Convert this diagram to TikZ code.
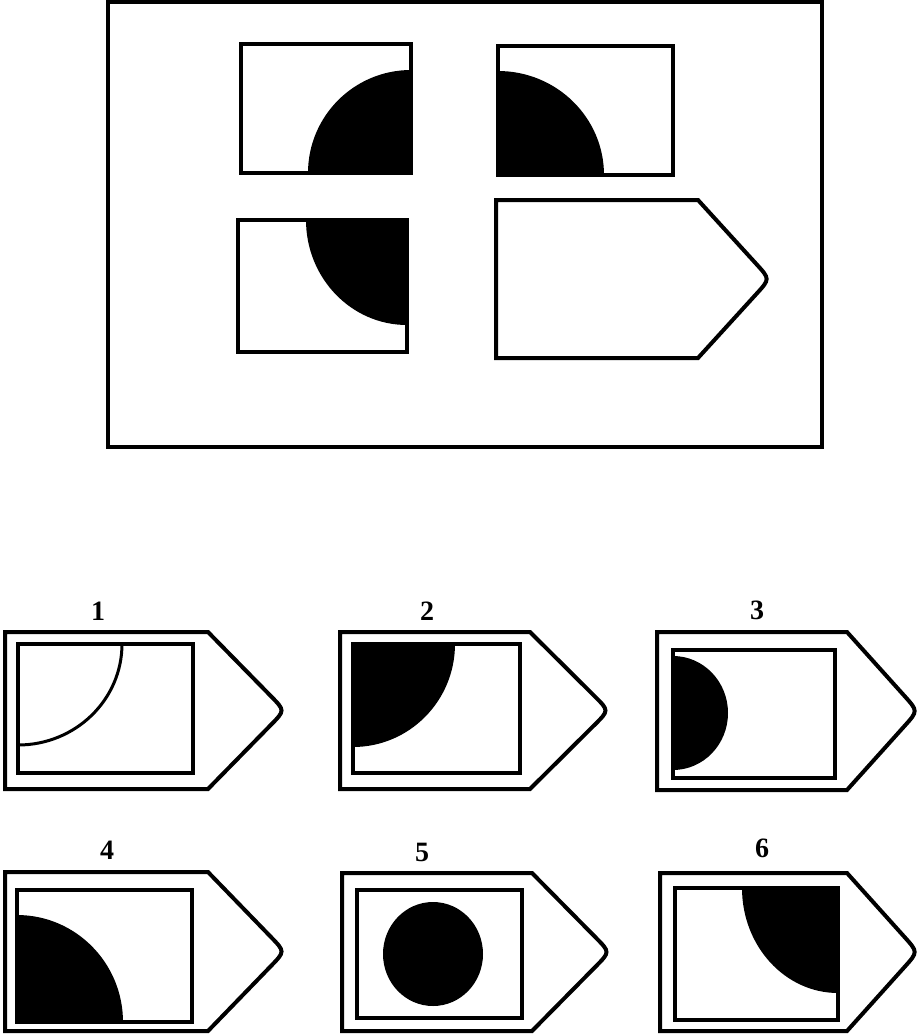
\documentclass[tikz,border=0pt]{standalone}
\usepackage{fontspec}
\setmainfont{Liberation Serif}
\usetikzlibrary{calc}
\tikzset{
  frameline/.style={line width=3.5pt},
  boxline/.style={line width=4pt, line join=miter},
  innerline/.style={line width=4.5pt},
  blackfill/.style={fill=black},
  numlabel/.style={font=\bfseries\fontsize{28}{30}\selectfont, inner sep=0pt}
}
% #1 x0, #2 xe, #3 xt, #4 y0, #5 y1
\newcommand\arrowoutline[5]{%
  \coordinate (tp) at (#3,{(#4+#5)/2});
  \draw[boxline] (#1,#4) -- (#2,#4) -- ($(tp)!20pt!(#2,#4)$) .. controls (tp) .. ($(tp)!20pt!(#2,#5)$) -- (#2,#5) -- (#1,#5) -- cycle;}
\begin{document}
\begin{tikzpicture}[x=1pt,y=-1pt]
\useasboundingbox (0,0) rectangle (919,1034);
\fill[white] (0,0) rectangle (919,1034);
% ---------- top frame ----------
\draw[frameline] (108,2) rectangle (822,447);
% top-left cell
\begin{scope}
  \clip (241,44) rectangle (411,173);
  \fill[blackfill] (411,173) ellipse [x radius=103, y radius=103];
\end{scope}
\draw[boxline] (241,44) rectangle (411,173);
% top-right cell
\begin{scope}
  \clip (498,46) rectangle (673,175);
  \fill[blackfill] (498,175) ellipse [x radius=106, y radius=104];
\end{scope}
\draw[boxline] (498,46) rectangle (673,175);
% bottom-left cell
\begin{scope}
  \clip (238,220) rectangle (407,352);
  \fill[blackfill] (407,220) ellipse [x radius=101, y radius=105];
\end{scope}
\draw[boxline] (238,220) rectangle (407,352);
% bottom-right cell (pentagon)
\arrowoutline{496}{698}{770}{200}{358}
% ---------- options ----------
% 1
\arrowoutline{5}{208}{285}{632}{789}
\begin{scope}
  \clip (18,644) rectangle (193,773);
  \draw[line width=3pt] (18,644) ellipse [x radius=104, y radius=101];
\end{scope}
\draw[innerline] (18,644) rectangle (193,773);
\node[numlabel] (n1) at (98,611) {1};
% 2
\arrowoutline{340}{530}{609}{632}{789}
\begin{scope}
  \clip (353,644) rectangle (520,773);
  \fill[blackfill] (353,644) ellipse [x radius=102, y radius=103];
\end{scope}
\draw[innerline] (353,644) rectangle (520,773);
\node[numlabel] (n2) at (427,611) {2};
% 3
\arrowoutline{657}{847}{918}{632}{790}
\begin{scope}
  \clip (673,650) rectangle (835,778);
  \fill[blackfill] (673,713) ellipse [x radius=55, y radius=57];
\end{scope}
\draw[innerline] (673,650) rectangle (835,778);
\node[numlabel] (n3) at (757,610) {3};
% 4
\arrowoutline{5}{208}{285}{872}{1031}
\begin{scope}
  \clip (17,890) rectangle (192,1022);
  \fill[blackfill] (17,1022) ellipse [x radius=106, y radius=107];
\end{scope}
\draw[innerline] (17,890) rectangle (192,1022);
\node[numlabel] (n4) at (107,850) {4};
% 5
\arrowoutline{342}{532}{610}{873}{1031}
\fill[blackfill] (433,954) ellipse [x radius=50, y radius=52];
\draw[innerline] (357,890) rectangle (522,1018);
\node[numlabel] (n5) at (422,852) {5};
% 6
\arrowoutline{660}{847}{918}{873}{1031}
\begin{scope}
  \clip (675,888) rectangle (838,1020);
  \fill[blackfill] (838,888) ellipse [x radius=96, y radius=105];
\end{scope}
\draw[innerline] (675,888) rectangle (838,1020);
\node[numlabel] (n6) at (762,848) {6};
\end{tikzpicture}
\end{document}
